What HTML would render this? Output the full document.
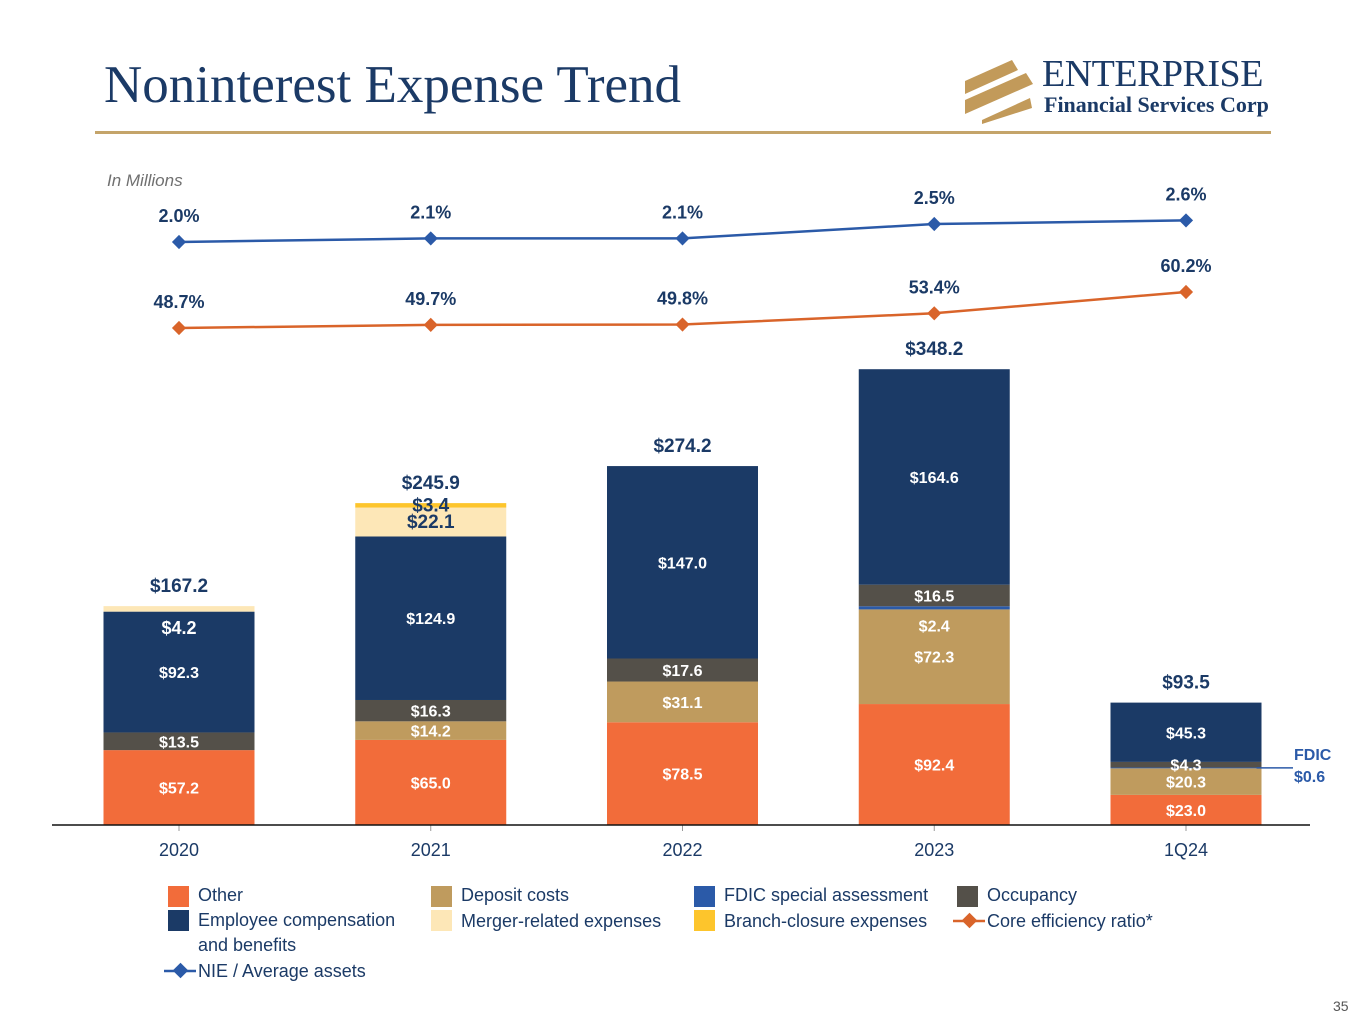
<!DOCTYPE html>
<html><head><meta charset="utf-8"><style>
html,body{margin:0;padding:0;background:#fff;width:1365px;height:1024px;overflow:hidden;font-family:"Liberation Sans",sans-serif}
#title{position:absolute;left:104px;top:55px;font-family:"Liberation Serif",serif;font-size:53px;color:#1b3a66;margin:0;font-weight:normal}
#rule{position:absolute;left:95px;top:131px;width:1176px;height:3px;background:#c4a46a}
.lg{position:absolute;font-size:18px;color:#1b3a66}
</style></head><body>
<h1 id="title">Noninterest Expense Trend</h1>
<div id="rule"></div>
<div style="position:absolute;left:960px;top:52px;width:320px;height:70px">
<svg width="80" height="70" style="position:absolute;left:0;top:4px">
<polygon points="5,25 52,4 58,14 5,38" fill="#c29a5a"/>
<polygon points="5,44 66,17 73,28 5,58" fill="#c29a5a"/>
<polygon points="22,64 70,42 72,52 22,68" fill="#c29a5a"/>
</svg>
<div style="position:absolute;left:82px;top:0;font-family:'Liberation Serif',serif;font-size:38px;color:#1b3a66;letter-spacing:-0.5px">ENTERPRISE</div>
<div style="position:absolute;left:84px;top:40px;font-family:'Liberation Serif',serif;font-size:22px;font-weight:bold;color:#1b3a66">Financial Services Corp</div>
</div>
<div style="position:absolute;left:107px;top:171px;font-size:17px;font-style:italic;color:#707070">In Millions</div>
<svg id="chart" width="1365" height="1024" style="position:absolute;left:0;top:0"></svg>
<div class="lg" style="left:168px;top:885px"><span style="position:absolute;left:0;top:1px;width:21px;height:21px;background:#f26c3a"></span><span style="position:absolute;left:30px;white-space:nowrap">Other</span></div>
<div class="lg" style="left:431px;top:885px"><span style="position:absolute;left:0;top:1px;width:21px;height:21px;background:#bf9b5e"></span><span style="position:absolute;left:30px;white-space:nowrap">Deposit costs</span></div>
<div class="lg" style="left:694px;top:885px"><span style="position:absolute;left:0;top:1px;width:21px;height:21px;background:#2b5aa8"></span><span style="position:absolute;left:30px;white-space:nowrap">FDIC special assessment</span></div>
<div class="lg" style="left:957px;top:885px"><span style="position:absolute;left:0;top:1px;width:21px;height:21px;background:#545049"></span><span style="position:absolute;left:30px;white-space:nowrap">Occupancy</span></div>
<div class="lg" style="left:168px;top:909px"><span style="position:absolute;left:0;top:1px;width:21px;height:21px;background:#1b3a66"></span><span style="position:absolute;left:30px;white-space:nowrap;line-height:25px;top:-1px">Employee compensation<br>and benefits</span></div>
<div class="lg" style="left:431px;top:909px"><span style="position:absolute;left:0;top:1px;width:21px;height:21px;background:#fde7b7"></span><span style="position:absolute;left:30px;white-space:nowrap;top:2px">Merger-related expenses</span></div>
<div class="lg" style="left:694px;top:909px"><span style="position:absolute;left:0;top:1px;width:21px;height:21px;background:#fdc52c"></span><span style="position:absolute;left:30px;white-space:nowrap;top:2px">Branch-closure expenses</span></div>
<div class="lg" style="left:953px;top:909px"><svg width="32" height="22" style="position:absolute;left:0;top:0"><line x1="0" y1="12" x2="32" y2="12" stroke="#d9642a" stroke-width="2.5"/><rect x="11" y="6" width="11" height="11" fill="#d9642a" transform="rotate(45 16.5 11.5)"/></svg><span style="position:absolute;left:34px;white-space:nowrap;top:2px">Core efficiency ratio*</span></div>
<div class="lg" style="left:164px;top:959px"><svg width="32" height="22" style="position:absolute;left:0;top:0"><line x1="0" y1="12" x2="32" y2="12" stroke="#2b5aa8" stroke-width="2.5"/><rect x="11" y="6" width="11" height="11" fill="#2b5aa8" transform="rotate(45 16.5 11.5)"/></svg><span style="position:absolute;left:34px;white-space:nowrap;top:2px">NIE / Average assets</span></div>
<div style="position:absolute;left:1333px;top:998px;font-size:14px;color:#555">35</div>
<script>
const categories=["2020","2021","2022","2023","1Q24"];
const other=[57.2,65.0,78.5,92.4,23.0];
const deposit=[0,14.2,31.1,72.3,20.3];
const fdic=[0,0,0,2.4,0.6];
const occupancy=[13.5,16.3,17.6,16.5,4.3];
const employee=[92.3,124.9,147.0,164.6,45.3];
const merger=[4.2,22.1,0,0,0];
const branch=[0,3.4,0,0,0];
const totals=[167.2,245.9,274.2,348.2,93.5];
const nie=[2.0,2.1,2.1,2.5,2.6];
const efficiency=[48.7,49.7,49.8,53.4,60.2];

const NS="http://www.w3.org/2000/svg";
const svg=document.getElementById('chart');
function mk(t,a){const e=document.createElementNS(NS,t);for(const k in a)e.setAttribute(k,a[k]);svg.appendChild(e);return e;}
const base=825, pxPer=1.309;
function xPos(i){return 179+i*251.75;}
function yBar(v){return base-v*pxPer;}
function yNie(v){return 242-(v-2.0)*36;}
function yEff(v){return 328-(v-48.7)*3.13;}
const BW=151;
const series=[
 {name:"other",data:other,color:"#f26c3a",lc:"#fff"},
 {name:"deposit",data:deposit,color:"#bf9b5e",lc:"#fff"},
 {name:"fdic",data:fdic,color:"#2b5aa8",lc:"#fff"},
 {name:"occupancy",data:occupancy,color:"#545049",lc:"#fff"},
 {name:"employee",data:employee,color:"#1b3a66",lc:"#fff"},
 {name:"merger",data:merger,color:"#fde7b7",lc:"#1b3a66"},
 {name:"branch",data:branch,color:"#fdc52c",lc:"#1b3a66"}
];
categories.forEach((c,i)=>{
 let cum=0;
 series.forEach(s=>{
  const v=s.data[i]; if(!v){return;}
  const y0=yBar(cum), y1=yBar(cum+v);
  const r=mk('rect',{x:xPos(i)-BW/2,y:y1,width:BW,height:y0-y1,fill:s.color});
  
  
  cum+=v;
 });
 cum=0;
 series.forEach(s=>{
  const v=s.data[i]; if(!v){return;}
  if(s.name==="fdic"&&i===4){cum+=v;return;}
  const y0=yBar(cum), y1=yBar(cum+v);
  let cy=(y0+y1)/2+6, col=s.lc, fs=(s.lc==="#fff"?16:19);
  if(s.name==="merger"&&i===0){cy=y1+28;col="#fff";fs=18;}
  if(s.name==="fdic"&&i===3){cy=y1+25;}
  const t=mk('text',{x:xPos(i),y:cy,'text-anchor':'middle','font-size':fs,'font-weight':'bold',fill:col});
  t.textContent='$'+v.toFixed(1);
  
  
  cum+=v;
 });
 const tt=mk('text',{x:xPos(i),y:yBar(totals[i])-14,'text-anchor':'middle','font-size':19,'font-weight':'bold',fill:'#1b3a66'});
 tt.textContent='$'+totals[i].toFixed(1);
 
 
 const xl=mk('text',{x:xPos(i),y:856,'text-anchor':'middle','font-size':18,fill:'#1b3a66'});
 xl.textContent=c;
 
 
 const tk=mk('line',{x1:xPos(i),y1:base,x2:xPos(i),y2:831,stroke:'#999','stroke-width':1});
 
 
});
const ax=mk('line',{x1:52,y1:base,x2:1310,y2:base,stroke:'#111','stroke-width':1.5});


{
 const i=4; const fy=yBar(other[i]+deposit[i]+fdic[i]/2);
 const l=mk('line',{x1:xPos(i)+BW/2-5,y1:fy,x2:1293,y2:fy,stroke:'#2b5aa8','stroke-width':1.5});
 
 
 const t1=mk('text',{x:1294,y:fy-8,'font-size':16,'font-weight':'bold',fill:'#2b5aa8'});t1.textContent='FDIC';
 
 
 const t2=mk('text',{x:1294,y:fy+14,'font-size':16,'font-weight':'bold',fill:'#2b5aa8'});t2.textContent='$'+fdic[i].toFixed(1);
 
 
}
function line(data,yf,color,nm){
 const p=mk('polyline',{points:data.map((v,i)=>xPos(i)+','+yf(v)).join(' '),fill:'none',stroke:color,'stroke-width':2.5});
 
 
 data.forEach((v,i)=>{
  const x=xPos(i),y=yf(v);
  const m=mk('rect',{x:x-5,y:y-5,width:10,height:10,fill:color,transform:'rotate(45 '+x+' '+y+')'});
  
  
  const t=mk('text',{x:x,y:y-20,'text-anchor':'middle','font-size':18,'font-weight':'bold',fill:'#1b3a66'});
  t.textContent=v.toFixed(1)+'%';
  
  
 });
}
line(nie,yNie,'#2b5aa8','nie');
line(efficiency,yEff,'#d9642a','efficiency');
</script>
</body></html>
